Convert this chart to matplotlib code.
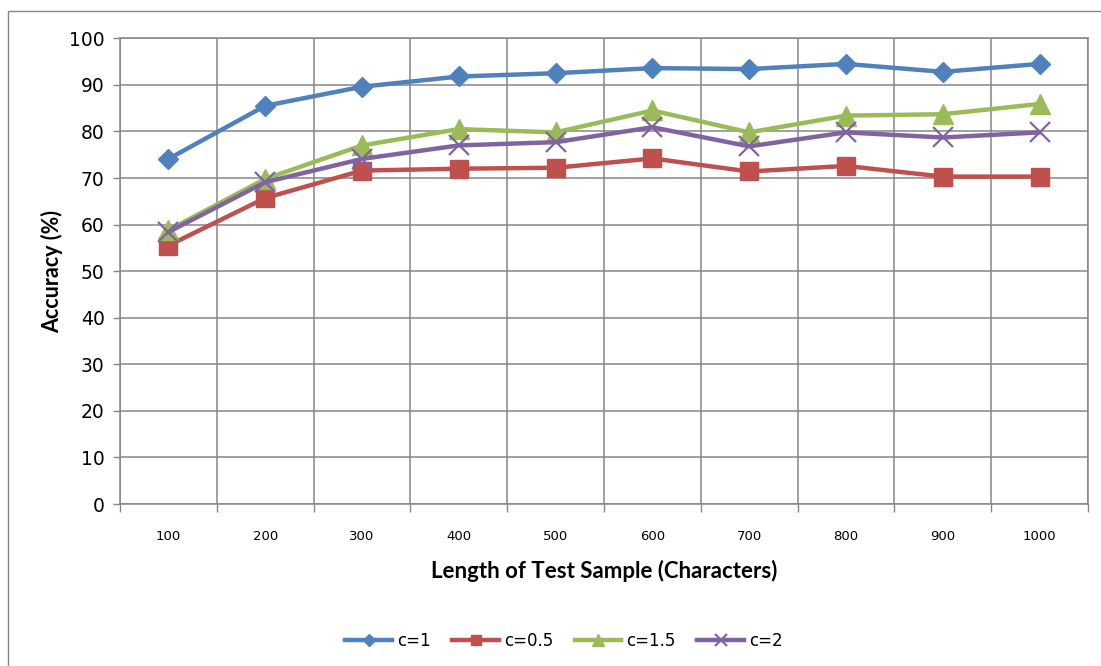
import matplotlib.pyplot as plt
import numpy as np
from matplotlib.patches import Rectangle

# accuracy (%) vs length of test sample, one list per c value
lengths = ['100', '200', '300', '400', '500', '600', '700', '800', '900', '1000']
acc_c1 = [74.1, 85.5, 89.6, 91.8, 92.5, 93.6, 93.4, 94.5, 92.8, 94.5]
acc_c05 = [55.5, 65.7, 71.6, 72.0, 72.2, 74.2, 71.4, 72.6, 70.3, 70.3]
acc_c15 = [58.8, 69.8, 77.0, 80.5, 79.8, 84.5, 79.8, 83.4, 83.7, 85.9]
acc_c2 = [58.4, 69.1, 74.1, 77.0, 77.7, 80.9, 76.8, 79.8, 78.7, 79.8]

grid_col = '#868686'

fig = plt.figure(figsize=(11.01, 6.66), dpi=100)
W, H = 1101, 666
ax = fig.add_axes([120 / W, 1 - 504 / H, (1088 - 120) / W, (504 - 38.3) / H])

# outer chart-area border (only top and left visible in the crop)
fig.patches.append(Rectangle((8 / W, -0.1), 1.2, 1 - 11 / H + 0.1,
                             transform=fig.transFigure, fill=False,
                             edgecolor=grid_col, linewidth=1.0))

x = np.arange(len(lengths))

ax.plot(x, acc_c1, color='#4F81BD', lw=3.2, marker='D', ms=10, label='c=1', zorder=3)
ax.plot(x, acc_c05, color='#C0504D', lw=3.2, marker='s', ms=13, label='c=0.5', zorder=3)
ax.plot(x, acc_c15, color='#9BBB59', lw=3.2, marker='^', ms=14, label='c=1.5', zorder=3)
ax.plot(x, acc_c2, color='#8064A2', lw=3.2, marker='x', ms=14, mew=1.6, label='c=2', zorder=3)

ax.set_xlim(-0.5, len(lengths) - 0.5)
ax.set_ylim(0, 100)
ax.set_yticks(np.arange(0, 101, 10))
ax.set_xticks(x)
ax.set_xticklabels(lengths)
ax.set_xticks(np.arange(-0.5, len(lengths), 1), minor=True)

ax.tick_params(axis='y', length=5, width=1, color=grid_col, labelsize=13.5, pad=6)
ax.tick_params(axis='x', which='major', length=0, labelsize=9.5, pad=19)
ax.tick_params(axis='x', which='minor', length=6, width=1, color=grid_col)

ax.grid(axis='y', which='major', color=grid_col, lw=1.1)
ax.grid(axis='x', which='minor', color=grid_col, lw=1.1)
ax.set_axisbelow(True)
for s in ax.spines.values():
    s.set_color(grid_col)
    s.set_linewidth(1.1)

ax.set_xlabel('Length of Test Sample (Characters)', fontsize=16, fontweight='bold',
              family='Lato', labelpad=12)
ax.set_ylabel('Accuracy (%)', fontsize=15.5, fontweight='bold', family='Lato', labelpad=4)

fig.legend(loc='center', bbox_to_anchor=(564 / W, 1 - 641 / H), ncol=4, frameon=False,
           fontsize=12, handlelength=2.8, handletextpad=0.3, columnspacing=1.3,
           markerscale=0.6)

plt.savefig('out.png', dpi=100)
